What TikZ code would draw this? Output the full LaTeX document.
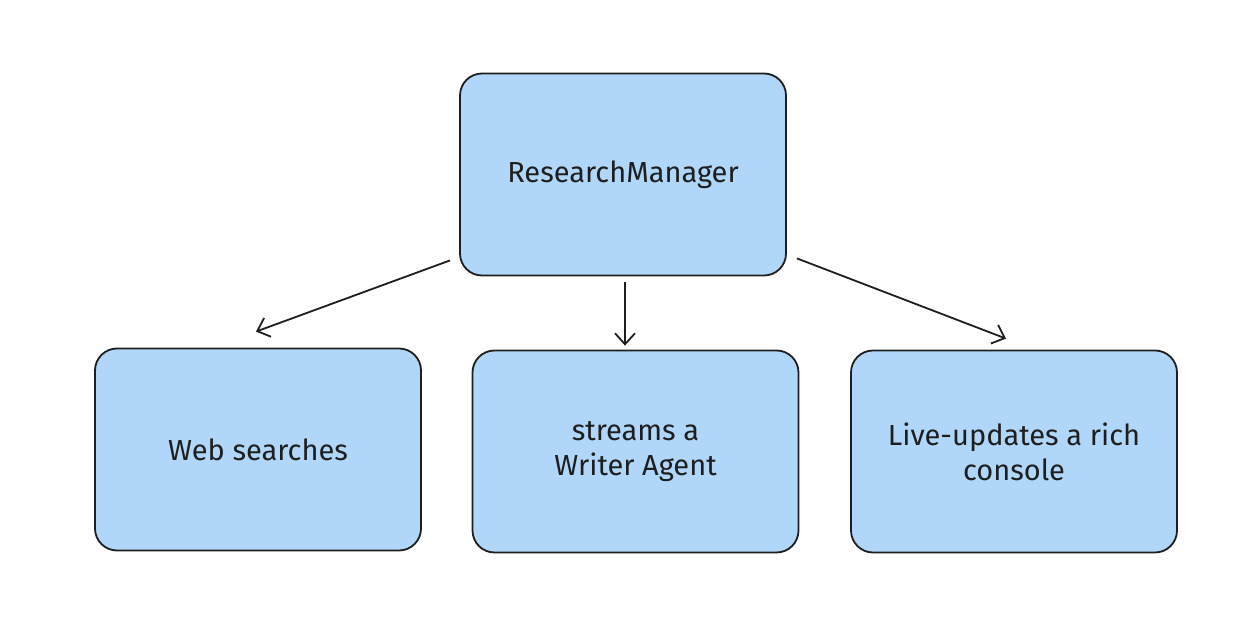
\documentclass[tikz,border=0pt]{standalone}
\usepackage{fontspec}
\setmainfont{Fira Sans}
\usetikzlibrary{arrows.meta,calc}
\definecolor{boxfill}{RGB}{176,215,250}
\definecolor{inkc}{RGB}{30,30,30}
\tikzset{
  box/.style={draw=inkc, line width=1.8pt, fill=boxfill, rounded corners=22pt,
    minimum width=326pt, minimum height=202pt, align=center, inner sep=0pt,
    font=\fontsize{29}{35}\selectfont, text=inkc},
  conn/.style={draw=inkc, line width=1.8pt, -{Straight Barb[length=11pt,width=20pt,line width=1.8pt]}}
}
\begin{document}
\begin{tikzpicture}[x=1pt,y=-1pt]
\useasboundingbox (0,0) rectangle (1256,620);
\node[box] (a) at (623,174.5) {ResearchManager};
\node[box] (b) at (258,449.5) {Web searches};
\node[box] (c) at (635.5,451.5) {streams a\\Writer Agent};
\node[box] (d) at (1014,451.5) {Live-updates a rich\\console};
\draw[conn] ($(a.south west)+(-9,-16)$) -- ($(b.north)+(-2,-16)$);
\draw[conn] ($(a.south)+(2,6)$) -- ($(c.north)+(-10.5,-4)$);
\draw[conn] ($(a.south east)+(10,-18)$) -- ($(d.north)+(-8,-11)$);
\end{tikzpicture}
\end{document}
